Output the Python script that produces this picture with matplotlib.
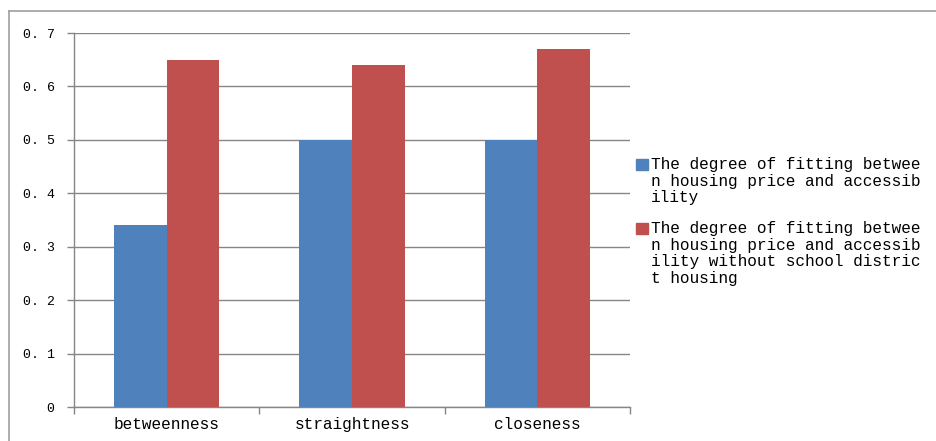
import matplotlib.pyplot as plt
from matplotlib.patches import Rectangle
from matplotlib.lines import Line2D
import numpy as np

# data
categories = ["betweenness", "straightness", "closeness"]
fit_all = [0.34, 0.50, 0.50]
fit_no_school = [0.65, 0.64, 0.67]
series_labels = [
    "The degree of fitting betwee\nn housing price and accessib\nility",
    "The degree of fitting betwee\nn housing price and accessib\nility without school distric\nt housing",
]
series_colors = ["#4f81bd", "#c0504d"]
yticks = [0, 0.1, 0.2, 0.3, 0.4, 0.5, 0.6, 0.7]
ytick_labels = ["0", "0. 1", "0. 2", "0. 3", "0. 4", "0. 5", "0. 6", "0. 7"]

mono = "Liberation Mono"

fig = plt.figure(figsize=(9.36, 4.41), dpi=100)

# outer chart frame (only top and left edges are visible in the crop)
fx, fy = 8.5 / 936, 1 - 10.5 / 441
fig.lines.append(Line2D([fx, 1.0], [fy, fy], transform=fig.transFigure,
                        color="#a0a0a0", linewidth=1.2))
fig.lines.append(Line2D([fx, fx], [0.0, fy], transform=fig.transFigure,
                        color="#a0a0a0", linewidth=1.2))

ax = fig.add_axes([74 / 936, 1 - 407 / 441, 556 / 936, 374 / 441])

x = np.arange(len(categories))
w = 0.285
ax.bar(x - w / 2, fit_all, w, color=series_colors[0], zorder=3)
ax.bar(x + w / 2, fit_no_school, w, color=series_colors[1], zorder=3)

ax.set_xlim(-0.5, len(categories) - 0.5)
ax.set_ylim(0, 0.7)

ax.set_yticks(yticks)
ax.set_yticklabels(ytick_labels, fontfamily=mono, fontsize=9.5)
ax.yaxis.grid(True, color="#868686", linewidth=1.0, zorder=0)

ax.set_xticks(x)
ax.set_xticklabels(categories, fontfamily=mono, fontsize=11.6)
ax.set_xticks(np.arange(len(categories) + 1) - 0.5, minor=True)
ax.tick_params(axis="x", which="major", length=0, pad=7)
ax.tick_params(axis="x", which="minor", length=5, color="#868686", width=1)
ax.tick_params(axis="y", length=5, color="#868686", width=1, pad=9)

for s in ["top", "right"]:
    ax.spines[s].set_visible(False)
for s in ["left", "bottom"]:
    ax.spines[s].set_color("#868686")
    ax.spines[s].set_linewidth(1.0)

# legend drawn by hand so the swatch sits on the first line
legend_tops = [157 / 441, 221 / 441]
for lab, col, top in zip(series_labels, series_colors, legend_tops):
    fig.patches.append(Rectangle((636 / 936, 1 - (top * 441 + 13) / 441), 12 / 936, 11 / 441,
                                 transform=fig.transFigure, color=col))
    fig.text(651 / 936, 1 - top, lab, fontfamily=mono, fontsize=11.6,
             va="top", ha="left", linespacing=1.14)

fig.savefig("out.png", dpi=100)
